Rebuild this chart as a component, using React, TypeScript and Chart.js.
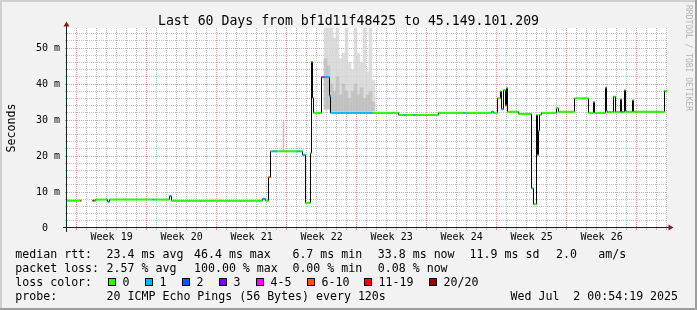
import React, { useEffect, useRef } from 'react';
import { Chart, registerables } from 'chart.js';

Chart.register(...registerables);

const FONT = "'DejaVu Sans Mono', monospace";

const titleText = 'Last 60 Days from bf1d11f48425 to 45.149.101.209';
const yAxisTitle = 'Seconds';
const watermarkText = 'RRDTOOL / TOBI OETIKER';

// median RTT trace: days since graph start, milliseconds, loss class index
const rttDays = [
  0.0, 1.35, 1.45, 2.55, 2.75, 2.85, 4.05, 4.25, 8.55, 8.75, 10.25, 10.45,
  19.55, 19.85, 20.15, 20.35, 20.55, 20.95, 23.05, 23.35, 23.55, 23.85, 24.35,
  24.45, 24.55, 24.65, 25.45, 25.75, 26.25, 26.35, 30.55, 33.15, 33.65, 33.85,
  34.65, 34.85, 37.15, 39.65, 39.85, 42.45, 42.65, 43.05, 43.35, 43.45, 43.65,
  43.85, 43.95, 44.05, 45.15, 46.45, 46.65, 46.95, 47.05, 47.15, 47.25, 47.45,
  48.95, 49.15, 50.75, 52.15, 52.65, 52.75, 53.85, 53.95, 54.05, 54.65, 54.85,
  55.35, 55.45, 55.55, 55.75, 55.85, 55.95, 56.55, 56.65, 59.75, 60.0,
];
const rttMs: (number | null)[] = [
  7.6, 7.6, null, 7.6, 7.6, 7.9, 7.3, 7.9, 7.9, 7.9, 8.9, 7.6,
  8.1, 7.6, 14.1, 21.3, 21.3, 21.3, 21.3, 21.3, 20.3, 7.0, 20.8,
  46.2, 36.1, 32.0, 41.9, 41.9, 36.7, 32.0, 32.0, 31.4, 31.4, 31.4,
  31.4, 31.4, 32.0, 32.0, 32.0, 32.3, 32.0, 36.0, 38.0, 33.0, 38.3,
  34.0, 38.9, 32.3, 31.7, 11.0, 6.6, 31.4, 20.3, 27.0, 31.5, 32.0,
  33.3, 32.3, 36.0, 32.0, 35.0, 32.0, 39.0, 32.5, 32.2, 36.5, 32.2,
  35.8, 32.2, 32.2, 38.3, 32.5, 32.3, 35.5, 32.3, 38.1, 38.1,
];
const rttLoss = [
  0, 6, 0, 6, 0, 0, 1, 0, 1, 0, 1, 0,
  1, 0, 5, 0, 1, 0, 1, 0, 1, 0, 0,
  0, 5, 0, 4, 1, 1, 1, 0, 0, 1, 0,
  1, 0, 0, 1, 0, 1, 0, 0, 0, 1, 0,
  0, 0, 0, 0, 1, 0, 0, 1, 0, 0, 0,
  0, 0, 0, 0, 1, 0, 0, 1, 0, 0, 0,
  0, 1, 0, 0, 1, 0, 0, 0, 0, 0,
];

// smoke (ping spread) columns
const smokeDays = [
  25.85, 26.15, 26.45, 26.75, 27.05, 27.35, 27.65, 27.95, 28.25, 28.55, 28.85,
  29.15, 29.45, 29.75, 30.05, 30.35, 30.65,
];
const smokeLow = [33, 33, 32.5, 32.5, 32.5, 32.5, 32.5, 32.5, 32.5, 32.5, 32.5, 32.5, 32.5, 32.5, 32.5, 32.5, 32.5];
const smokeHigh = [55.6, 55.6, 55.6, 52.8, 55.6, 47.0, 48.6, 55.6, 45.8, 44.0, 55.6, 48.6, 46.0, 55.6, 43.4, 55.6, 41.0];
const smokeCore = [47, 45, 40, 38, 42, 37, 40, 38, 36, 38, 40, 37, 39, 36, 37, 38, 35];
const spikeDays = [21.65];
const spikeLow = [21.3];
const spikeHigh = [29.5];

const weekLabels = ['Week 19', 'Week 20', 'Week 21', 'Week 22', 'Week 23', 'Week 24', 'Week 25', 'Week 26'];
const firstWeekLine = 0.962; // Sunday 00:00 offset in days from graph start
const yMajorValues = [0, 10, 20, 30, 40, 50];
const yMajorLabels = ['0  ', '10 m', '20 m', '30 m', '40 m', '50 m'];

const lossColors = ['#26ff00', '#00b8ff', '#0059ff', '#7e00ff', '#ff00ff', '#ff5500', '#ff0000', '#a10000'];
const lossLabels = ['0', '1', '2', '3', '4-5', '6-10', '11-19', '20/20'];
const rttStatLabel = 'median rtt:';
const rttStats = ['23.4 ms avg', '46.4 ms max', '6.7 ms min', '33.8 ms now', '11.9 ms sd', '2.0', 'am/s'];
const lossStatLabel = 'packet loss:';
const lossStats = ['2.57 % avg', '100.00 % max', '0.00 % min', '0.08 % now'];
const lossColorLabel = 'loss color:';
const probeLabel = 'probe:';
const probeText = '20 ICMP Echo Pings (56 Bytes) every 120s';
const dateText = 'Wed Jul  2 00:54:19 2025';

const MINOR = 'rgba(143,143,143,0.55)';
const MAJOR = 'rgba(222,79,79,0.6)';

export default function App() {
  const ref = useRef<HTMLCanvasElement>(null);

  useEffect(() => {
    document.body.style.margin = '0';
    const canvas = ref.current!;

    const colored: { x: number; y: number | null; c: number }[] = [];
    for (let i = 0; i < rttDays.length - 1; i++) {
      const v = rttMs[i];
      if (v === null) continue;
      colored.push({ x: rttDays[i], y: v, c: rttLoss[i] });
      colored.push({ x: rttDays[i + 1], y: v, c: rttLoss[i] });
      colored.push({ x: rttDays[i + 1], y: null, c: 0 });
    }
    const black = rttDays.map((d, i) => ({ x: d, y: rttMs[i] }));
    const smokeLight = smokeDays.map((d, i) => ({ x: d, y: [smokeLow[i], smokeHigh[i]] }));
    const smokeDark = smokeDays.map((d, i) => ({ x: d, y: [smokeLow[i], smokeCore[i]] }));
    const spikes = spikeDays.map((d, i) => ({ x: d, y: [spikeLow[i], spikeHigh[i]] }));

    const xTicks: number[] = [];
    for (let k = 0; firstWeekLine + 0.5 * k < 60; k++) xTicks.push(firstWeekLine + 0.5 * k);
    const yTicks: number[] = [];
    for (let v = 0; v <= 54; v += 2) yTicks.push(v);

    const xGridColor = (c: any) => {
      const k = c.index;
      if (k % 2 === 1) return 'rgba(0,0,0,0)';
      return (k / 2) % 7 === 0 ? MAJOR : MINOR;
    };
    const yGridColor = (c: any) => {
      const v = c.tick ? c.tick.value : 0;
      if (v === 0) return 'rgba(0,0,0,0)';
      return v % 10 === 0 ? MAJOR : MINOR;
    };

    const decor = {
      id: 'decor',
      beforeDraw(chart: any) {
        const { ctx, chartArea: a } = chart;
        ctx.save();
        ctx.fillStyle = '#f2f2f2';
        ctx.fillRect(0, 0, 697, 310);
        ctx.fillStyle = '#ffffff';
        ctx.fillRect(a.left, a.top, a.right - a.left, a.bottom - a.top);
        ctx.restore();
      },
      afterDraw(chart: any) {
        const { ctx } = chart;
        ctx.save();
        // axes
        ctx.strokeStyle = '#1f1f1f';
        ctx.lineWidth = 1;
        ctx.beginPath();
        ctx.moveTo(63, 227.5);
        ctx.lineTo(669, 227.5);
        ctx.moveTo(66.5, 232);
        ctx.lineTo(66.5, 26);
        ctx.stroke();
        ctx.fillStyle = '#801f1f';
        ctx.beginPath();
        ctx.moveTo(673.5, 227.5);
        ctx.lineTo(668.5, 224.5);
        ctx.lineTo(668.5, 230.5);
        ctx.closePath();
        ctx.fill();
        ctx.beginPath();
        ctx.moveTo(66.5, 21.5);
        ctx.lineTo(63.5, 26.5);
        ctx.lineTo(69.5, 26.5);
        ctx.closePath();
        ctx.fill();

        // title
        ctx.fillStyle = '#000';
        ctx.textBaseline = 'alphabetic';
        ctx.textAlign = 'center';
        ctx.font = `13.2px ${FONT}`;
        ctx.fillText(titleText, 348.5, 24.5);

        // y axis title
        ctx.save();
        ctx.font = `11.6px ${FONT}`;
        ctx.translate(14.5, 128);
        ctx.rotate(-Math.PI / 2);
        ctx.fillText(yAxisTitle, 0, 0);
        ctx.restore();

        // watermark
        ctx.save();
        ctx.fillStyle = 'rgba(0,0,0,0.28)';
        ctx.font = `8px ${FONT}`;
        ctx.textAlign = 'left';
        ctx.translate(686, 5);
        ctx.rotate(Math.PI / 2);
        ctx.fillText(watermarkText, 0, 0);
        ctx.restore();

        // legend
        ctx.textAlign = 'left';
        ctx.font = `11.6px ${FONT}`;
        const cols = [106.6, 194, 292.4, 377.8, 469.6, 556, 598.2];
        ctx.fillText(rttStatLabel, 15.3, 258);
        rttStats.forEach((t, i) => ctx.fillText(t, cols[i], 258));
        ctx.fillText(lossStatLabel, 15.3, 272);
        lossStats.forEach((t, i) => ctx.fillText(t, cols[i], 272));
        ctx.fillText(lossColorLabel, 15.3, 286);
        const boxes = [108, 145, 182, 219, 256, 307, 364, 429];
        lossLabels.forEach((t, i) => {
          const bx = boxes[i];
          ctx.fillStyle = lossColors[i];
          ctx.fillRect(bx, 278, 8, 8);
          ctx.strokeStyle = '#000';
          ctx.strokeRect(bx + 0.5, 278.5, 7, 7);
          ctx.fillStyle = '#000';
          ctx.fillText(t, bx + 14.5, 286);
        });
        ctx.fillText(probeLabel, 15.3, 300);
        ctx.fillText(probeText, 106.6, 300);
        ctx.fillText(dateText, 510.5, 300);

        // bevel frame
        ctx.fillStyle = '#cfcfcf';
        ctx.fillRect(0, 0, 697, 2);
        ctx.fillRect(0, 0, 2, 310);
        ctx.fillStyle = '#9e9e9e';
        ctx.fillRect(0, 308, 697, 2);
        ctx.fillRect(695, 0, 2, 310);
        ctx.restore();
      },
    };

    const chart = new Chart(canvas, {
      type: 'line',
      data: {
        datasets: [
          {
            type: 'line',
            data: colored as any,
            borderWidth: 2,
            borderColor: lossColors[0],
            segment: {
              borderColor: (c: any) => lossColors[colored[c.p0DataIndex].c],
            },
            pointRadius: 0,
            spanGaps: false,
            borderCapStyle: 'butt',
            tension: 0,
            order: 0,
          },
          {
            type: 'line',
            data: black as any,
            stepped: true,
            borderColor: '#000000',
            borderWidth: 1,
            pointRadius: 0,
            spanGaps: false,
            order: 1,
          },
          {
            type: 'bar',
            data: smokeDark as any,
            backgroundColor: 'rgba(175,175,175,0.5)',
            barThickness: 3,
            grouped: false,
            borderWidth: 0,
            order: 2,
          } as any,
          {
            type: 'bar',
            data: smokeLight as any,
            backgroundColor: 'rgba(212,212,212,0.8)',
            barThickness: 3,
            grouped: false,
            borderWidth: 0,
            order: 3,
          } as any,
          {
            type: 'bar',
            data: spikes as any,
            backgroundColor: '#c4c4c4',
            barThickness: 1,
            grouped: false,
            borderWidth: 0,
            order: 3,
          } as any,
        ],
      },
      options: {
        responsive: false,
        animation: false,
        devicePixelRatio: 1,
        events: [],
        layout: { padding: { left: 0, right: 30, top: 28, bottom: 0 } },
        plugins: { legend: { display: false }, tooltip: { enabled: false }, title: { display: false } },
        scales: {
          x: {
            type: 'linear',
            min: 0,
            max: 60,
            offset: false,
            afterBuildTicks: (s: any) => {
              s.ticks = xTicks.map((v) => ({ value: v }));
            },
            afterFit: (s: any) => {
              s.height = 82;
            },
            grid: {
              color: xGridColor,
              tickColor: xGridColor,
              lineWidth: 1,
              tickLength: 2,
              offset: false,
            },
            border: { display: false, dash: [1, 1] },
            ticks: {
              autoSkip: false,
              maxRotation: 0,
              minRotation: 0,
              padding: 1.5,
              color: '#000',
              font: { family: FONT, size: 10 },
              callback: (_v: any, i: number) => {
                if (i % 2 === 1 && (i - 7) % 14 === 0) {
                  const w = (i - 7) / 14;
                  return weekLabels[w] ?? '';
                }
                return '';
              },
            },
          },
          y: {
            type: 'linear',
            min: 0,
            max: 55.56,
            afterBuildTicks: (s: any) => {
              s.ticks = yTicks.map((v) => ({ value: v }));
            },
            afterFit: (s: any) => {
              s.width = 67;
            },
            grid: {
              color: yGridColor,
              tickColor: yGridColor,
              lineWidth: 1,
              tickLength: 2,
            },
            border: { display: false, dash: [1, 1] },
            ticks: {
              autoSkip: false,
              padding: 5,
              color: '#000',
              font: { family: FONT, size: 10 },
              callback: (v: any) => {
                const idx = yMajorValues.indexOf(Number(v));
                return idx >= 0 ? yMajorLabels[idx] : '';
              },
            },
          },
        },
      },
      plugins: [decor],
    } as any);

    return () => chart.destroy();
  }, []);

  return (
    <div style={{ width: 697, height: 310 }}>
      <canvas ref={ref} width={697} height={310} style={{ display: 'block', width: 697, height: 310 }} />
    </div>
  );
}
